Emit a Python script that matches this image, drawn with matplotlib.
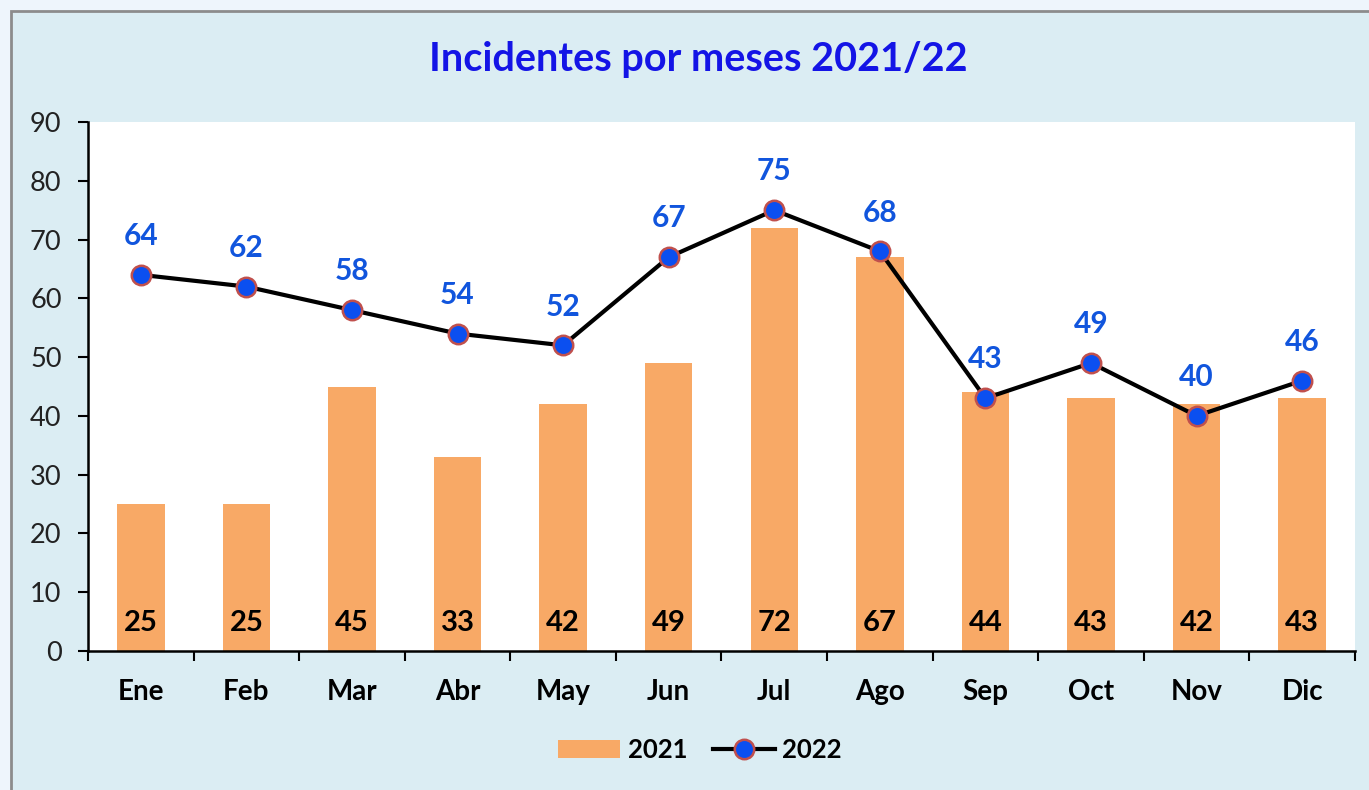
import numpy as np
import matplotlib.pyplot as plt
from matplotlib.patches import Rectangle
from matplotlib.lines import Line2D

# datos
meses = ['Ene', 'Feb', 'Mar', 'Abr', 'May', 'Jun', 'Jul', 'Ago', 'Sep', 'Oct', 'Nov', 'Dic']
inc_2021 = [25, 25, 45, 33, 42, 49, 72, 67, 44, 43, 42, 43]
inc_2022 = [64, 62, 58, 54, 52, 67, 75, 68, 43, 49, 40, 46]

plt.rcParams['font.family'] = ['Lato', 'DejaVu Sans']

fig = plt.figure(figsize=(13.69, 7.9), dpi=100)
fig.patch.set_facecolor('#EEF5FC')

# panel de fondo azul claro con borde gris (en un eje de fondo)
bg = fig.add_axes([0, 0, 1, 1], zorder=0)
bg.axis('off')
bg.set_xlim(0, 1369)
bg.set_ylim(790, 0)
bg.add_patch(Rectangle((11, 11), 1400, 800, facecolor='#DBEDF3',
                       edgecolor='#8C8C8C', linewidth=2))

ax = fig.add_axes([88 / 1369, 1 - 651 / 790, (1355 - 88) / 1369, (651 - 122) / 790], zorder=1)
ax.set_facecolor('white')

x = np.arange(len(meses))
ax.bar(x, inc_2021, width=0.45, color='#F8A966', zorder=2, label='2021')
ax.plot(x, inc_2022, color='black', linewidth=3, marker='o', markersize=14,
        markerfacecolor='#0B4FF0', markeredgecolor='#C0504D', markeredgewidth=1.8,
        zorder=3, label='2022')

# etiquetas de datos
for xi, v in zip(x, inc_2021):
    ax.text(xi, 4.8, str(v), ha='center', va='center', fontsize=21,
            fontweight='bold', color='black', zorder=4)
for xi, v in zip(x, inc_2022):
    ax.text(xi, v + 6.6, str(v), ha='center', va='center', fontsize=21.5,
            fontweight='bold', color='#1155DD', zorder=4)

ax.set_xlim(-0.5, len(meses) - 0.5)
ax.set_ylim(0, 90)
ax.set_yticks(np.arange(0, 91, 10))
ax.tick_params(axis='y', labelsize=19.5, length=7, width=1.5, direction='out', pad=12,
               labelcolor='#222222')

ax.set_xticks(x)
ax.set_xticklabels(meses, fontsize=20, fontweight='bold')
ax.tick_params(axis='x', which='major', length=0, pad=20)
ax.set_xticks(np.arange(-0.5, len(meses), 1), minor=True)
ax.tick_params(axis='x', which='minor', length=7, width=1.5, direction='out')

for s in ['top', 'right']:
    ax.spines[s].set_visible(False)
for s in ['left', 'bottom']:
    ax.spines[s].set_linewidth(1.8)

fig.text(698 / 1369, 1 - 60 / 790, 'Incidentes por meses 2021/22', ha='center',
         va='center', fontsize=28.5, fontweight='bold', color='#1414E6', zorder=5)

handles = [Rectangle((0, 0), 1, 1, facecolor='#F8A966'),
           Line2D([], [], color='black', linewidth=3, marker='o', markersize=14,
                  markerfacecolor='#0B4FF0', markeredgecolor='#C0504D', markeredgewidth=1.8)]
fig.legend(handles, ['2021', '2022'], loc='center', bbox_to_anchor=(700 / 1369, 1 - 750 / 790),
           ncol=2, frameon=False, prop={'size': 18.5, 'weight': 'bold'},
           handlelength=2.4, handletextpad=0.3, columnspacing=1.0)

plt.savefig('out.png', dpi=100, facecolor=fig.get_facecolor())
